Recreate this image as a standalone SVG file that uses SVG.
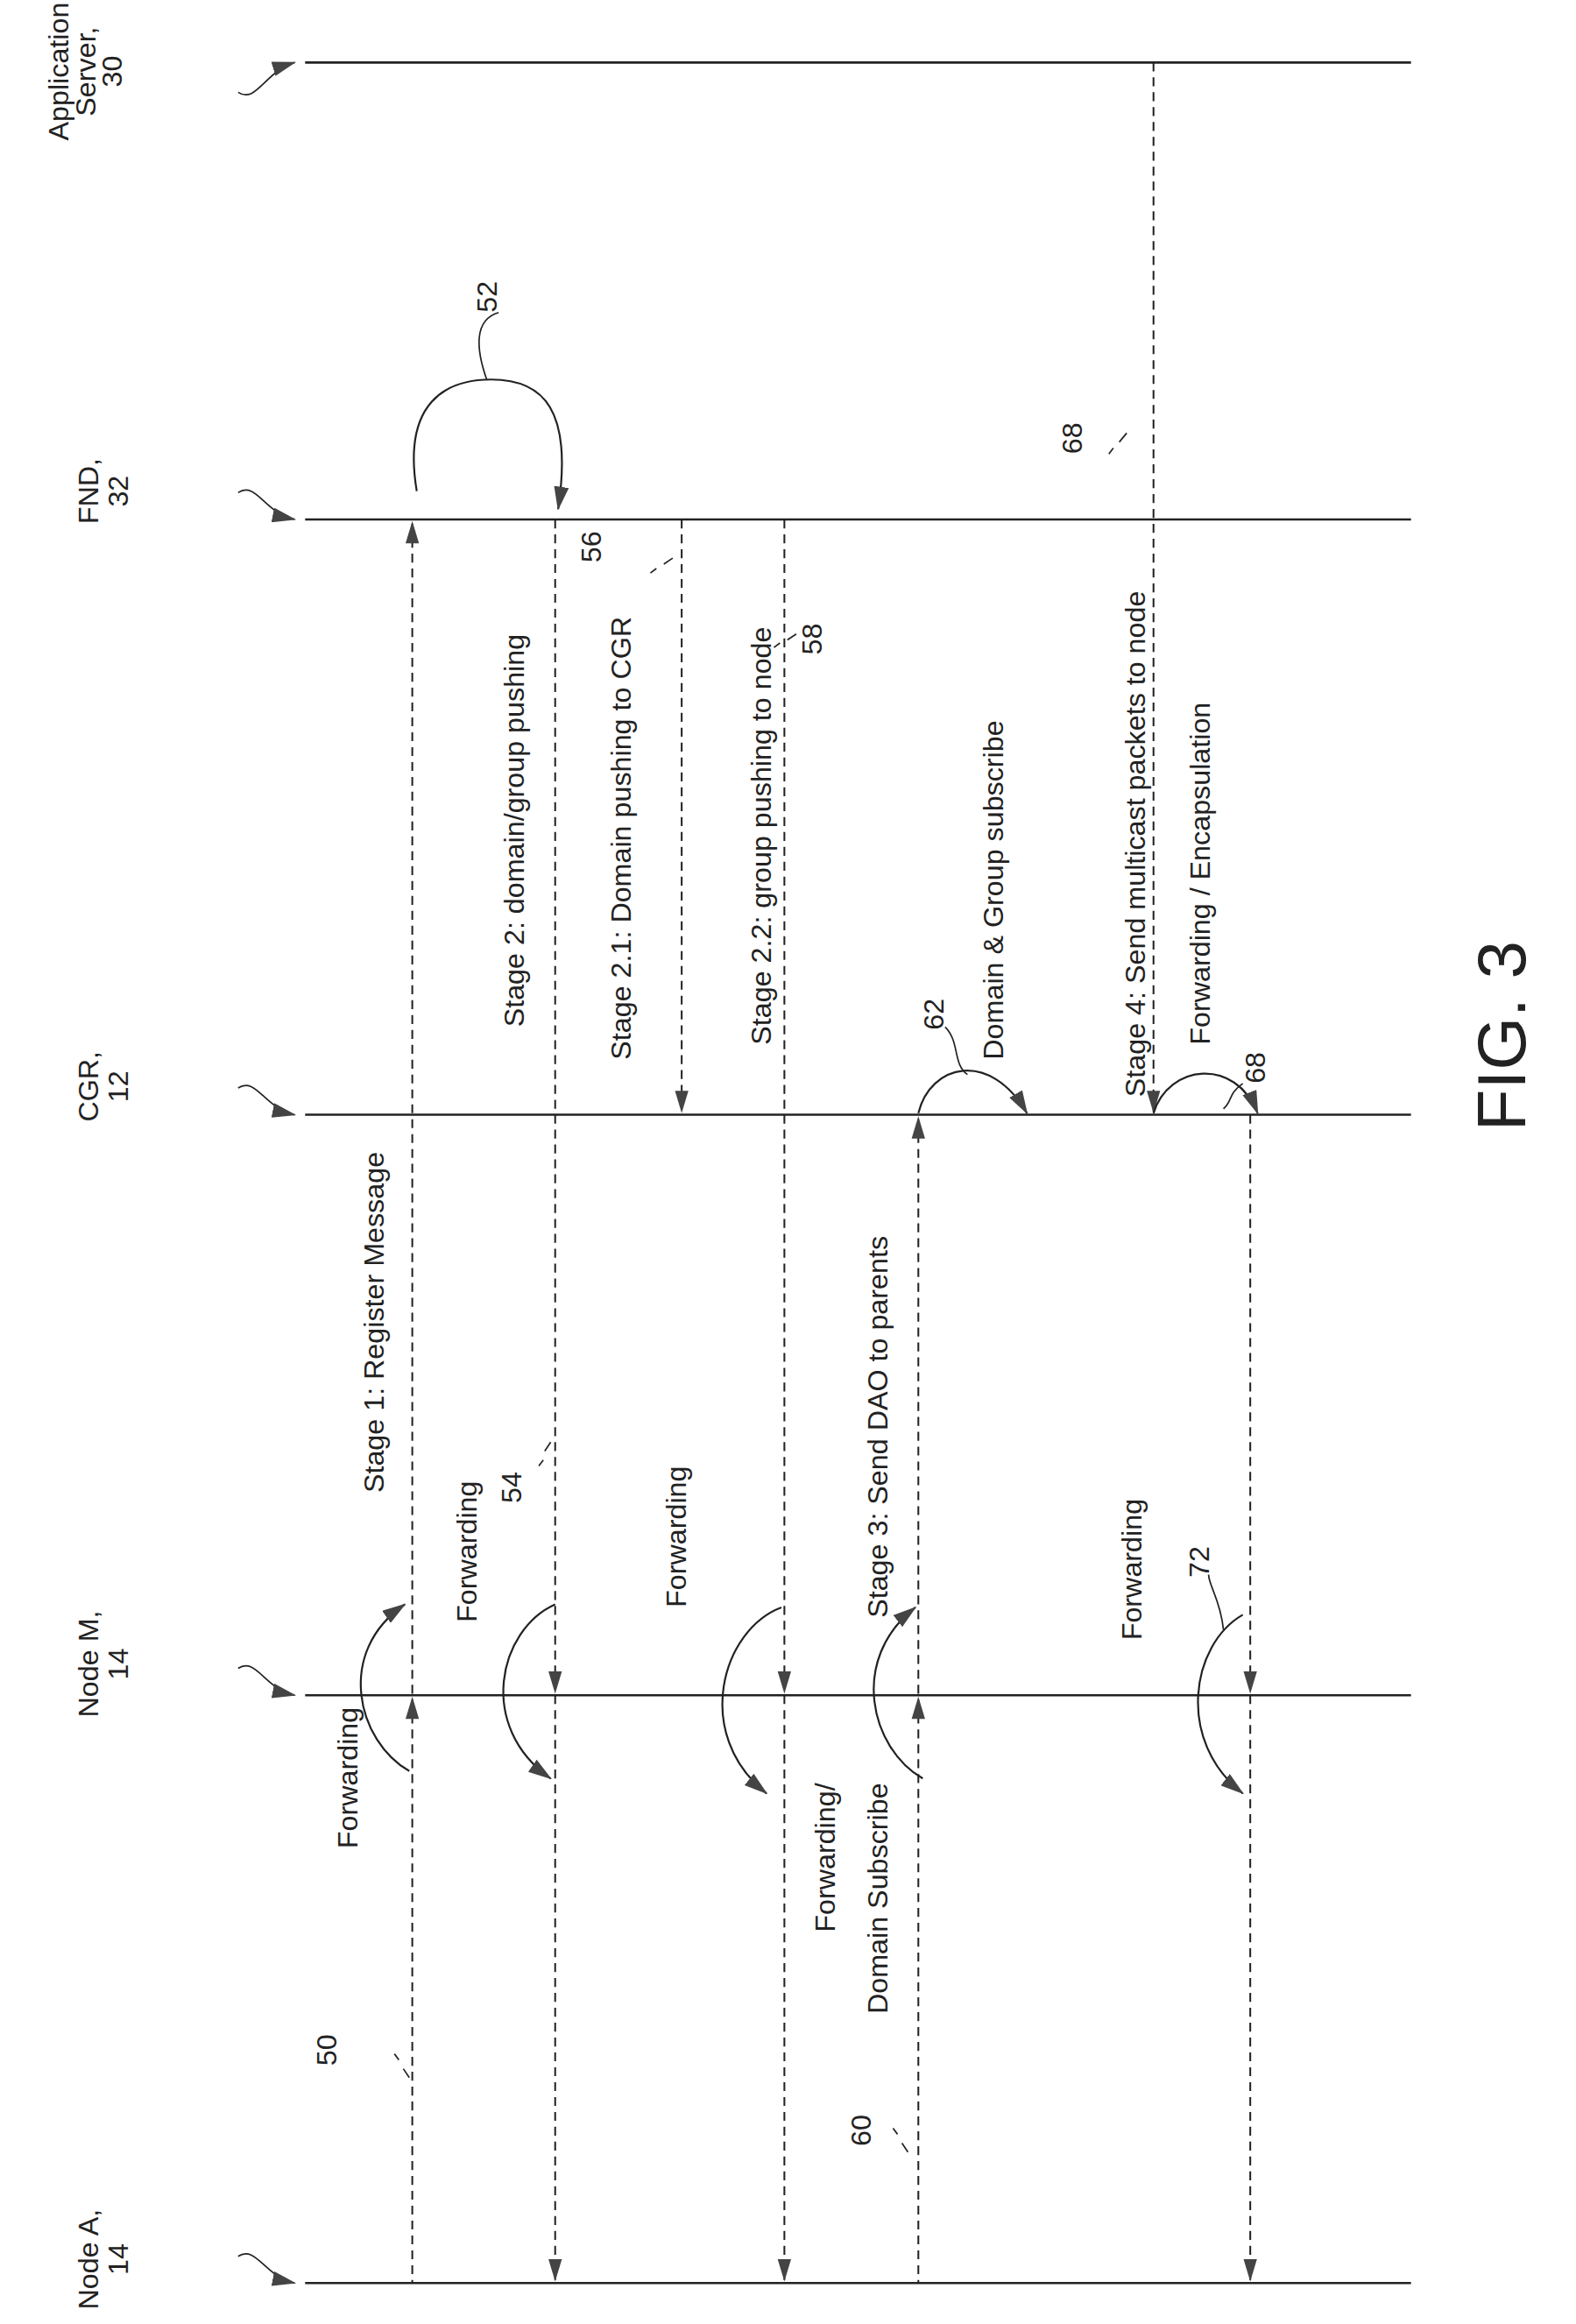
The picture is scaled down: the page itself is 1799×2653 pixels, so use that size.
<svg xmlns="http://www.w3.org/2000/svg" width="1799" height="2653" viewBox="0 0 1799 2653">
<style>
.t{font-family:"Liberation Sans Narrow","Liberation Sans",Arial,sans-serif;font-size:19px;fill:#222}
.life{stroke:#222;stroke-width:1.5;fill:none}
.msg{stroke:#222;stroke-width:1.2;stroke-dasharray:6 4;fill:none}
.arc{stroke:#222;stroke-width:1.3;fill:none}
.ld{stroke:#222;stroke-width:1;fill:none}
</style>
<defs>
<path id="ah" d="M0,0 L-4.5,15 L4.5,15 Z" fill="#444"/>
<marker id="m" viewBox="0 0 16 10" refX="15" refY="5" markerWidth="16" markerHeight="10" markerUnits="userSpaceOnUse" orient="auto"><path d="M0,0 L16,5 L0,10 Z" fill="#444"/></marker>
</defs>
<rect width="1799" height="2653" fill="#fff"/>
<g transform="scale(1.699)">
<g id="lifelines">
<g id="appserver"><line class="life" x1="205" y1="42" x2="948" y2="42"/><path class="ld" d="M160,62 C172,70 178,48 198,42" marker-end="url(#m)"/>
<text class="t" transform="translate(46,48) rotate(-90)" text-anchor="middle">Application</text>
<text class="t" transform="translate(64,48) rotate(-90)" text-anchor="middle">Server,</text>
<text class="t" transform="translate(82,48) rotate(-90)" text-anchor="middle">30</text></g>
<g id="fnd"><line class="life" x1="205" y1="349" x2="948" y2="349"/><path class="ld" d="M160,331 C172,323 178,345 198,349" marker-end="url(#m)"/>
<text class="t" transform="translate(66,330) rotate(-90)" text-anchor="middle">FND,</text>
<text class="t" transform="translate(86,330) rotate(-90)" text-anchor="middle">32</text></g>
<g id="cgr"><line class="life" x1="205" y1="749" x2="948" y2="749"/><path class="ld" d="M160,731 C172,723 178,745 198,749" marker-end="url(#m)"/>
<text class="t" transform="translate(66,730) rotate(-90)" text-anchor="middle">CGR,</text>
<text class="t" transform="translate(86,730) rotate(-90)" text-anchor="middle">12</text></g>
<g id="nodem"><line class="life" x1="205" y1="1139" x2="948" y2="1139"/><path class="ld" d="M160,1121 C172,1113 178,1135 198,1139" marker-end="url(#m)"/>
<text class="t" transform="translate(66,1118) rotate(-90)" text-anchor="middle">Node M,</text>
<text class="t" transform="translate(86,1118) rotate(-90)" text-anchor="middle">14</text></g>
<g id="nodea"><line class="life" x1="205" y1="1534" x2="948" y2="1534"/><path class="ld" d="M160,1516 C172,1508 178,1530 198,1534" marker-end="url(#m)"/>
<text class="t" transform="translate(66,1518) rotate(-90)" text-anchor="middle">Node A,</text>
<text class="t" transform="translate(86,1518) rotate(-90)" text-anchor="middle">14</text></g>
</g>
<g id="connectors">
<line class="msg" x1="277" y1="352" x2="277" y2="1534"/>
<use href="#ah" x="277" y="350"/><use href="#ah" x="277" y="1140"/>
<line class="msg" x1="373" y1="349" x2="373" y2="1532"/>
<use href="#ah" transform="translate(373,1138) rotate(180)"/><use href="#ah" transform="translate(373,1533) rotate(180)"/>
<line class="msg" x1="458" y1="349" x2="458" y2="747"/>
<use href="#ah" transform="translate(458,748) rotate(180)"/>
<line class="msg" x1="527" y1="349" x2="527" y2="1532"/>
<use href="#ah" transform="translate(527,1138) rotate(180)"/><use href="#ah" transform="translate(527,1533) rotate(180)"/>
<line class="msg" x1="617" y1="752" x2="617" y2="1534"/>
<use href="#ah" x="617" y="750"/><use href="#ah" x="617" y="1140"/>
<line class="msg" x1="775" y1="42" x2="775" y2="747"/>
<use href="#ah" transform="translate(775,748) rotate(180)"/>
<line class="msg" x1="840" y1="749" x2="840" y2="1532"/>
<use href="#ah" transform="translate(840,1138) rotate(180)"/><use href="#ah" transform="translate(840,1533) rotate(180)"/>
<path class="arc" d="M280,330 C270,270 300,255 330,255 C365,255 385,275 375,342" marker-end="url(#m)"/>
<path class="arc" d="M617,748 C625,715 665,705 690,748" marker-end="url(#m)"/>
<path class="arc" d="M775,748 C785,715 830,710 845,748" marker-end="url(#m)"/>
<path class="arc" d="M275,1190 C240,1170 225,1110 272,1078" marker-end="url(#m)"/>
<path class="arc" d="M373,1078 C335,1095 320,1160 370,1195" marker-end="url(#m)"/>
<path class="arc" d="M525,1080 C485,1095 465,1165 515,1205" marker-end="url(#m)"/>
<path class="arc" d="M620,1195 C585,1175 570,1115 615,1080" marker-end="url(#m)"/>
<path class="arc" d="M835,1085 C800,1105 790,1170 835,1205" marker-end="url(#m)"/>
<path class="ld" d="M335,210 C318,215 320,235 327,255"/>
<path class="ld" d="M635,690 C645,700 640,715 650,722"/>
<path class="ld" d="M835,728 C825,735 828,740 822,745"/>
<path class="ld" d="M812,1058 C812,1065 820,1075 822,1095"/>
<path class="ld" d="M265,1380 l3,4 M271,1390 l4,6"/>
<path class="ld" d="M600,1430 l3,4 M606,1440 l4,6"/>
<path class="ld" d="M362,985 l3,-4 M366,975 l4,-6"/>
<path class="ld" d="M437,385 l4,-3 M446,379 l6,-4"/>
<path class="ld" d="M520,435 l4,-3 M529,430 l6,-4"/>
<path class="ld" d="M745,305 l3,-4 M752,297 l5,-6"/>
</g>
<g id="labels">
<text class="t" transform="translate(258,1003) rotate(-90)">Stage 1: Register Message</text>
<text class="t" transform="translate(240,1242) rotate(-90)">Forwarding</text>
<text class="t" transform="translate(320,1090) rotate(-90)">Forwarding</text>
<text class="t" transform="translate(350,1010) rotate(-90)">54</text>
<text class="t" transform="translate(461,1080) rotate(-90)">Forwarding</text>
<text class="t" transform="translate(596,1087) rotate(-90)">Stage 3: Send DAO to parents</text>
<text class="t" transform="translate(561,1198) rotate(-90)" text-anchor="end">Forwarding/</text>
<text class="t" transform="translate(596,1198) rotate(-90)" text-anchor="end">Domain Subscribe</text>
<text class="t" transform="translate(767,1102) rotate(-90)">Forwarding</text>
<text class="t" transform="translate(812,1060) rotate(-90)">72</text>
<text class="t" transform="translate(226,1388) rotate(-90)">50</text>
<text class="t" transform="translate(585,1442) rotate(-90)">60</text>
<text class="t" transform="translate(352,690) rotate(-90)">Stage 2: domain/group pushing</text>
<text class="t" transform="translate(424,712) rotate(-90)">Stage 2.1: Domain pushing to CGR</text>
<text class="t" transform="translate(404,378) rotate(-90)">56</text>
<text class="t" transform="translate(518,702) rotate(-90)">Stage 2.2: group pushing to node</text>
<text class="t" transform="translate(552,440) rotate(-90)">58</text>
<text class="t" transform="translate(674,712) rotate(-90)">Domain &amp; Group subscribe</text>
<text class="t" transform="translate(634,692) rotate(-90)">62</text>
<text class="t" transform="translate(769,737) rotate(-90)">Stage 4: Send multicast packets to node</text>
<text class="t" transform="translate(813,702) rotate(-90)">Forwarding / Encapsulation</text>
<text class="t" transform="translate(850,728) rotate(-90)">68</text>
<text class="t" transform="translate(727,305) rotate(-90)">68</text>
<text class="t" transform="translate(334,210) rotate(-90)">52</text>
<text class="t" transform="translate(1025,760) rotate(-90)" style="font-size:46px">FIG. 3</text>
</g>
</g>
</svg>
